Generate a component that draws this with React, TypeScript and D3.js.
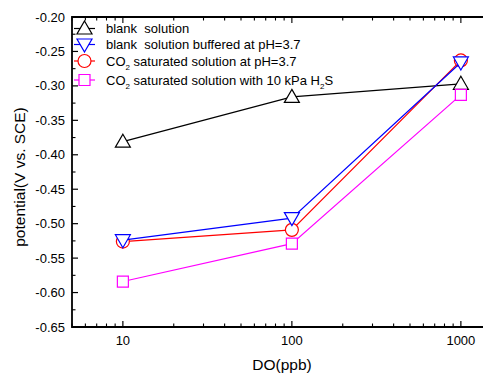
import { useEffect, useRef } from 'react';
import * as d3 from 'd3';

// ─── Data ───────────────────────────────────────────────────

const doLevels = [10, 100, 1000];
const blankSolution = [-0.381, -0.316, -0.297];
const blankBuffered = [-0.524, -0.492, -0.266];
const co2Saturated = [-0.526, -0.509, -0.263];
const co2WithH2S = [-0.584, -0.529, -0.313];

const yTicks = [-0.65, -0.6, -0.55, -0.5, -0.45, -0.4, -0.35, -0.3, -0.25, -0.2];
const xTicks = [10, 100, 1000];

type Shape = 'triangle' | 'triangleDown' | 'circle' | 'square';

interface Series {
  values: number[];
  color: string;
  shape: Shape;
  // legend label segments: [text, isSubscript]
  label: [string, boolean][];
}

const SERIES: Series[] = [
  { values: blankSolution, color: '#000000', shape: 'triangle', label: [['blank  solution', false]] },
  { values: blankBuffered, color: '#0000ff', shape: 'triangleDown', label: [['blank  solution buffered at pH=3.7', false]] },
  { values: co2Saturated, color: '#ff0000', shape: 'circle', label: [['CO', false], ['2', true], [' saturated solution at pH=3.7', false]] },
  { values: co2WithH2S, color: '#ff00ff', shape: 'square', label: [['CO', false], ['2', true], [' saturated solution with 10 kPa H', false], ['2', true], ['S', false]] },
];

// draw order: later ones on top
const DRAW_ORDER = [0, 3, 2, 1];

// ─── Helpers ────────────────────────────────────────────────

function markerPath(shape: Shape, cx: number, cy: number): string {
  const p = d3.path();
  if (shape === 'triangle') {
    p.moveTo(cx, cy - 7.5);
    p.lineTo(cx + 7.5, cy + 5.5);
    p.lineTo(cx - 7.5, cy + 5.5);
    p.closePath();
  } else if (shape === 'triangleDown') {
    p.moveTo(cx, cy + 7.5);
    p.lineTo(cx + 7.5, cy - 5.5);
    p.lineTo(cx - 7.5, cy - 5.5);
    p.closePath();
  } else if (shape === 'circle') {
    p.moveTo(cx + 6.5, cy);
    p.arc(cx, cy, 6.5, 0, Math.PI * 2);
  } else {
    p.rect(cx - 5.5, cy - 5.5, 11, 11);
  }
  return p.toString();
}

// ─── Component ──────────────────────────────────────────────

export default function App() {
  const svgRef = useRef<SVGSVGElement>(null);
  const width = 483;
  const height = 373;

  useEffect(() => {
    if (!svgRef.current) return;
    const svg = d3.select(svgRef.current);
    svg.selectAll('*').remove();

    const left = 72;
    const top = 17;
    const bottom = 327;
    const decade = 169;

    const x = d3.scaleLog()
      .domain([5, 2000])
      .range([left, left + Math.log10(400) * decade]);

    const y = d3.scaleLinear()
      .domain([-0.65, -0.2])
      .range([bottom, top]);

    const font = 'Arial, "Liberation Sans", sans-serif';

    // Minor ticks on log x
    const minorX: number[] = [];
    for (let e = 0; e <= 3; e++) {
      for (let m = 1; m <= 9; m++) {
        const v = m * Math.pow(10, e);
        if (v >= 5 && v <= 2000 && !xTicks.includes(v)) minorX.push(v);
      }
    }
    const minorY = d3.range(0, yTicks.length - 1).map((i) => (yTicks[i] + yTicks[i + 1]) / 2);

    const axis = svg.append('g').attr('stroke', '#000');

    // Bottom ticks (inside)
    axis.selectAll('line.xmaj').data(xTicks).join('line')
      .attr('x1', (d) => x(d)).attr('x2', (d) => x(d))
      .attr('y1', bottom).attr('y2', bottom - 6).attr('stroke-width', 1.2);
    axis.selectAll('line.xmin').data(minorX).join('line')
      .attr('x1', (d) => x(d)).attr('x2', (d) => x(d))
      .attr('y1', bottom).attr('y2', bottom - 3.5).attr('stroke-width', 1.1);

    // Top mirrored ticks
    const topAxis = svg.append('g').attr('stroke', '#000');
    topAxis.selectAll('line').data([...xTicks, ...minorX]).join('line')
      .attr('x1', (d) => x(d)).attr('x2', (d) => x(d))
      .attr('y1', top).attr('y2', (d) => top + (xTicks.includes(d) ? 6 : 3.5))
      .attr('stroke-width', 1.1);

    // Left ticks (inside)
    const leftAxis = svg.append('g').attr('stroke', '#000');
    leftAxis.selectAll('line.maj').data(yTicks).join('line')
      .attr('x1', left).attr('x2', left + 6)
      .attr('y1', (d) => y(d)).attr('y2', (d) => y(d)).attr('stroke-width', 1.2);
    leftAxis.selectAll('line.min').data(minorY).join('line')
      .attr('x1', left).attr('x2', left + 3.5)
      .attr('y1', (d) => y(d)).attr('y2', (d) => y(d)).attr('stroke-width', 1.1);

    // Frame
    svg.append('path')
      .attr('d', `M${width + 2},${top}H${left}V${bottom}H${width + 2}`)
      .attr('fill', 'none')
      .attr('stroke', '#000')
      .attr('stroke-width', 1.8);

    // Tick labels
    svg.append('g').selectAll('text').data(yTicks).join('text')
      .attr('x', 65).attr('y', (d) => y(d) + 4.5)
      .attr('text-anchor', 'end')
      .attr('font-family', font).attr('font-size', 13)
      .text((d) => d.toFixed(2));

    svg.append('g').selectAll('text').data(xTicks).join('text')
      .attr('x', (d) => x(d)).attr('y', bottom + 18)
      .attr('text-anchor', 'middle')
      .attr('font-family', font).attr('font-size', 13)
      .text((d) => String(d));

    // Axis titles
    svg.append('text')
      .attr('x', 282).attr('y', 370)
      .attr('text-anchor', 'middle')
      .attr('font-family', font).attr('font-size', 15.5)
      .text('DO(ppb)');

    svg.append('text')
      .attr('transform', 'translate(25,177) rotate(-90)')
      .attr('text-anchor', 'middle')
      .attr('font-family', font).attr('font-size', 15.5)
      .text('potential(V vs. SCE)');

    // Series
    const line = d3.line<[number, number]>()
      .x((d) => x(d[0]))
      .y((d) => y(d[1]));

    for (const i of DRAW_ORDER) {
      const s = SERIES[i];
      const pts = doLevels.map((d, j) => [d, s.values[j]] as [number, number]);
      const g = svg.append('g');
      g.append('path')
        .datum(pts)
        .attr('fill', 'none')
        .attr('stroke', s.color)
        .attr('stroke-width', 1.2)
        .attr('d', line);
      g.selectAll('path.m').data(pts).join('path')
        .attr('class', 'm')
        .attr('d', (d) => markerPath(s.shape, x(d[0]), y(d[1])))
        .attr('fill', 'white')
        .attr('stroke', s.color)
        .attr('stroke-width', 1.2);
    }

    // Legend
    const legendRows = [28.5, 44.5, 61, 80];
    const legend = svg.append('g');
    SERIES.forEach((s, i) => {
      const ly = legendRows[i];
      const lg = legend.append('g');
      lg.append('line')
        .attr('x1', 74).attr('x2', 95)
        .attr('y1', ly).attr('y2', ly)
        .attr('stroke', s.color).attr('stroke-width', 1.2);
      lg.append('path')
        .attr('d', markerPath(s.shape, 84.5, ly))
        .attr('fill', 'white')
        .attr('stroke', s.color).attr('stroke-width', 1.2);
      const t = lg.append('text')
        .attr('x', 106).attr('y', ly + 4.5)
        .attr('font-family', font).attr('font-size', 13)
        .attr('xml:space', 'preserve')
        .style('white-space', 'pre');
      s.label.forEach(([txt, sub]) => {
        const ts = t.append('tspan').text(txt);
        if (sub) ts.attr('font-size', 8).attr('dy', 4);
        else if (t.selectAll('tspan').size() > 1) ts.attr('dy', -4);
      });
    });
  }, []);

  return (
    <svg
      ref={svgRef}
      width={width}
      height={height}
      style={{ position: 'absolute', left: 0, top: 0, background: '#fff', overflow: 'hidden' }}
    />
  );
}
